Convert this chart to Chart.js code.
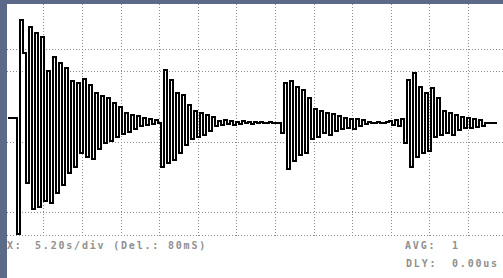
<!DOCTYPE html>
<html>
<head>
<meta charset="utf-8">
<script src="https://cdn.jsdelivr.net/npm/chart.js@4/dist/chart.umd.min.js"></script>
<style>
  html, body { margin: 0; padding: 0; }
  body { width: 503px; height: 278px; background: #5b6a88; position: relative; overflow: hidden; }
  #screen { position: absolute; left: 7px; top: 4px; width: 496px; height: 274px; background: #fff; }
  #wave { position: absolute; left: 0; top: 0; }
  .lbl { position: absolute; font-family: "DejaVu Sans Mono", monospace; font-size: 10px; font-weight: bold;
         color: #909090; letter-spacing: 1.8px; white-space: nowrap; line-height: 10px; }
</style>
</head>
<body>
<div id="screen">
  <canvas id="wave" width="496" height="234"></canvas>
  <div class="lbl" style="left:0px; top:237px;">X:</div>
  <div class="lbl" style="left:28px; top:237px;">5.20s/div (Del.: 80mS)</div>
  <div class="lbl" style="left:398px; top:237px;">AVG:</div>
  <div class="lbl" style="left:445px; top:237px;">1</div>
  <div class="lbl" style="left:399px; top:255px;">DLY:</div>
  <div class="lbl" style="left:445px; top:255px;">0.00us</div>
</div>
<script>
// amplitude of each sample, offset from the trace baseline (screen units)
const burst1 = [5, 5, 5, -111, 103, 70, -60, 96, -86, 90, -84, 86, -78, 52, -80, 66, -70, 60, -62, 55,
  -50, 42, -44, 40, -30, 44, -34, 38, -36, 30, -26, 27, -20, 25, -18, 20, -14, 16, -11, 10,
  -9, 8, -6, 7, -3, 5, -2, 4, -1, 3, 0];
const burst2 = [-44, 53, -40, 43, -37, 30, -30, 28, -22, 18, -16, 12, -14, 10, -12, 8, -8, 6, -3,
  2, -2, 3, -1, 2, -2, 1, -1, 2, 0, 1, -1, 1, 0, 1, 0, 0, 1, 0, 0, 0];
const burst3 = [-10, 40, -46, 42, -38, 36, -32, 33, -30, 25, -16, 14, -14, 12, -10, 10, -12, 9, -8, 7, -6,
  5, -5, 4, -6, 4, -3, 3, -1, 1, 0, 0, 1, 0, 0, 1, 2, -2, 3, -3, 4];
const burst4 = [-20, 43, -44, 50, -34, 36, -30, 30, -28, 35, -14, 25, -12, 12, -10, 10, -12, 8, -7, 6,
  -5, 5, -5, 4, -4, 3, -3, 0, 0, 0, 0, 0];

const samples = [...burst1, ...burst2, ...burst3, ...burst4];

// graticule (in screen units)
const hGrid = [73, 51, -19, -89, -112];
const divCount = 12;

const SAMPLES_PER_DIV = 38.6 / 3;
const GRID_OFFSET = -0.867;

const points = samples.map((v, i) => ({ x: i, y: v }));

const dotted = {
  color: '#8c8c8c',
  lineWidth: 1,
  drawTicks: false
};

new Chart(document.getElementById('wave').getContext('2d'), {
  type: 'line',
  data: {
    datasets: [{
      data: points,
      borderColor: '#000',
      borderWidth: 2,
      stepped: true,
      pointRadius: 0,
      fill: false
    }]
  },
  options: {
    responsive: false,
    animation: false,
    devicePixelRatio: 1,
    layout: { padding: 0 },
    plugins: { legend: { display: false }, tooltip: { enabled: false } },
    scales: {
      x: {
        type: 'linear',
        min: -1 / 3,
        max: 165,
        border: { display: false, dash: [1, 2] },
        grid: dotted,
        ticks: { display: false },
        afterBuildTicks: (scale) => {
          const t = [];
          for (let k = 1; k <= divCount; k++) t.push({ value: GRID_OFFSET + k * SAMPLES_PER_DIV });
          scale.ticks = t;
        }
      },
      y: {
        min: -115,
        max: 119,
        border: { display: false, dash: [1, 2] },
        grid: dotted,
        ticks: { display: false },
        afterBuildTicks: (scale) => {
          scale.ticks = hGrid.map(v => ({ value: v }));
        }
      }
    }
  }
});
</script>
</body>
</html>
